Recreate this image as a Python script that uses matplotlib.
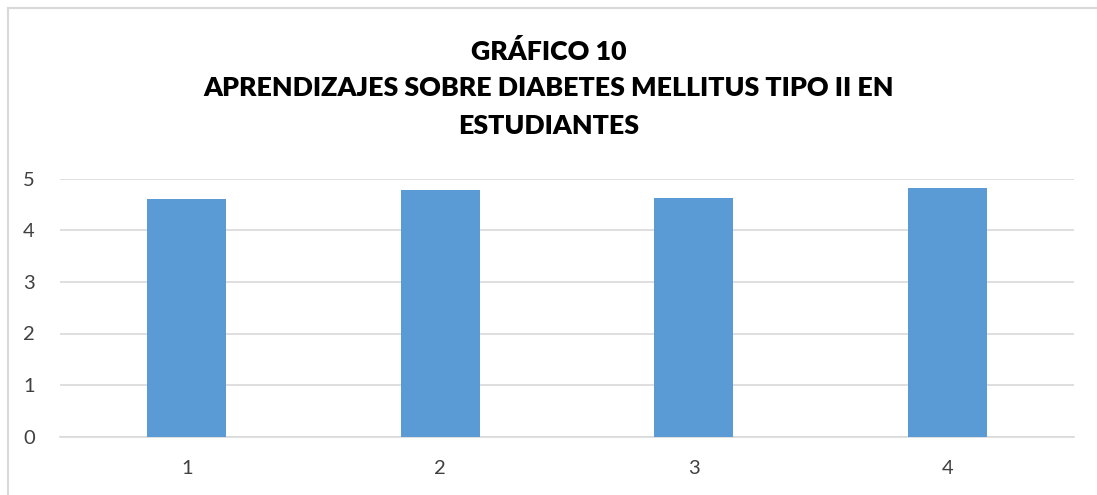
import matplotlib.pyplot as plt
from matplotlib.lines import Line2D

categorias = ["1", "2", "3", "4"]
valores = [4.60, 4.78, 4.63, 4.82]
y_ticks = [0, 1, 2, 3, 4, 5]

titulo = "GRÁFICO 10\nAPRENDIZAJES SOBRE DIABETES MELLITUS TIPO II EN\nESTUDIANTES"

fig = plt.figure(figsize=(10.97, 4.95), dpi=100)
ax = fig.add_axes([60/1097, 1 - 436.7/495, (1074 - 60)/1097, (436.7 - 178.7)/495])

x = range(len(categorias))
ax.bar(x, valores, width=0.31, color="#5b9bd5", zorder=3)

ax.set_xlim(-0.5, len(categorias) - 0.5)
ax.set_ylim(0, 5)
ax.set_yticks(y_ticks)
ax.set_xticks(list(x))
ax.set_xticklabels(categorias)
ax.grid(axis="y", color="#d9d9d9", linewidth=1.2, zorder=0)
for s in ["top", "right", "left"]:
    ax.spines[s].set_visible(False)
ax.spines["bottom"].set_color("#d9d9d9")
ax.spines["bottom"].set_linewidth(1.2)
ax.tick_params(length=0, labelsize=14.5, labelcolor="#404040")
ax.tick_params(axis="x", pad=17)
ax.tick_params(axis="y", pad=18)
for lab in ax.get_xticklabels() + ax.get_yticklabels():
    lab.set_family("Lato")

fig.text(0.5, 1 - 88/495, titulo, ha="center", va="center", fontsize=19.3,
         fontweight="heavy", family="Lato", linespacing=1.65, color="#000000")

# marco del grafico
fig.add_artist(Line2D([8/1097, 1], [1 - 8/495, 1 - 8/495], color="#d9d9d9", linewidth=1.5))
fig.add_artist(Line2D([8/1097, 8/1097], [0, 1 - 8/495], color="#d9d9d9", linewidth=1.5))

fig.savefig("out.png", dpi=100)
